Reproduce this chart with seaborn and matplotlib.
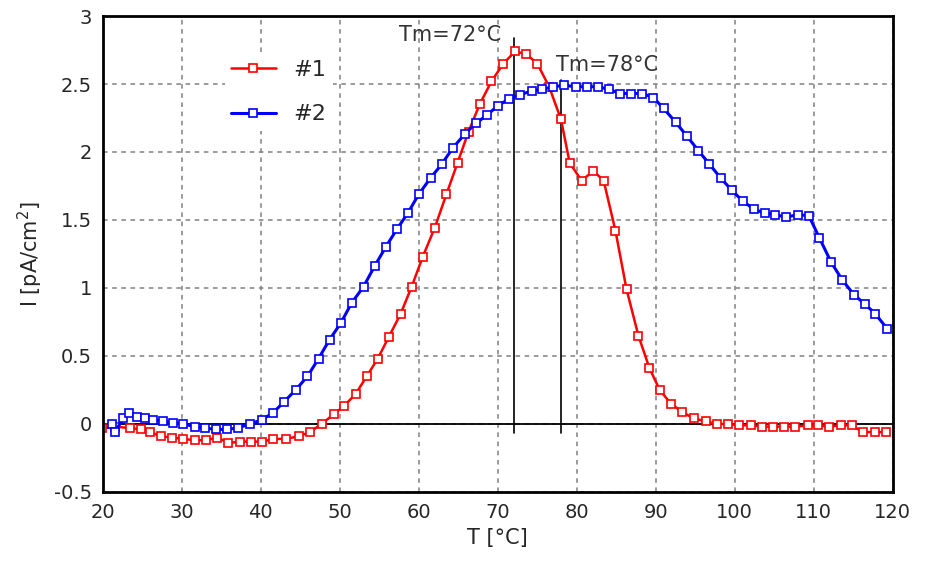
import numpy as np
import pandas as pd
import matplotlib
matplotlib.use("Agg")
import matplotlib.pyplot as plt
import seaborn as sns
from matplotlib.ticker import FuncFormatter

# === data ===
t1 = [19.9, 21.5, 23.4, 24.8, 26.0, 27.3, 28.7, 30.2, 31.6, 33.0, 34.5, 35.9, 37.3, 38.8,
      40.2, 41.6, 43.2, 44.8, 46.2, 47.7, 49.2, 50.5, 52.0, 53.4, 54.8, 56.2, 57.7, 59.1,
      60.5, 62.0, 63.5, 64.9, 66.3, 67.7, 69.2, 70.7, 72.2, 73.6, 75.0, 76.5, 78.0, 79.1,
      80.6, 82.1, 83.4, 84.9, 86.3, 87.8, 89.2, 90.5, 91.9, 93.3, 94.8, 96.3, 97.7, 99.1,
      100.5, 102.0, 103.5, 104.8, 106.2, 107.6, 109.3, 110.5, 111.9, 113.4, 114.8, 116.2,
      117.7, 119.1]
i1 = [-0.03, -0.02, -0.03, -0.04, -0.06, -0.09, -0.10, -0.11, -0.12, -0.12, -0.10, -0.14,
      -0.13, -0.13, -0.13, -0.11, -0.11, -0.09, -0.06, 0.00, 0.07, 0.13, 0.22, 0.35, 0.48,
      0.64, 0.81, 1.01, 1.23, 1.44, 1.69, 1.92, 2.15, 2.35, 2.52, 2.65, 2.74, 2.72, 2.65,
      2.48, 2.24, 1.92, 1.79, 1.86, 1.79, 1.42, 0.99, 0.65, 0.41, 0.25, 0.15, 0.09, 0.04,
      0.02, 0.00, 0.00, -0.01, -0.01, -0.02, -0.02, -0.02, -0.02, -0.01, -0.01, -0.02,
      -0.01, -0.01, -0.06, -0.06, -0.06]

t2 = [21.1, 21.5, 22.6, 23.3, 24.3, 25.3, 26.4, 27.6, 28.9, 30.2, 31.6, 32.9, 34.3, 35.7,
      37.1, 38.6, 40.1, 41.5, 42.9, 44.4, 45.9, 47.3, 48.7, 50.1, 51.5, 53.0, 54.4, 55.8,
      57.2, 58.6, 60.0, 61.5, 62.9, 64.3, 65.8, 67.2, 68.6, 70.0, 71.4, 72.8, 74.3, 75.6,
      77.0, 78.4, 79.9, 81.3, 82.7, 84.1, 85.5, 86.9, 88.3, 89.7, 91.0, 92.5, 93.9, 95.4,
      96.8, 98.2, 99.6, 101.0, 102.4, 103.8, 105.1, 106.5, 108.0, 109.4, 110.7, 112.2,
      113.6, 115.1, 116.5, 117.8, 119.3]
i2 = [0.00, -0.06, 0.04, 0.08, 0.05, 0.04, 0.03, 0.02, 0.01, 0.00, -0.02, -0.03, -0.04,
      -0.04, -0.03, 0.00, 0.03, 0.08, 0.16, 0.25, 0.35, 0.48, 0.62, 0.74, 0.89, 1.01, 1.16,
      1.30, 1.43, 1.55, 1.69, 1.81, 1.91, 2.03, 2.13, 2.21, 2.27, 2.34, 2.39, 2.42, 2.45,
      2.46, 2.48, 2.49, 2.48, 2.48, 2.48, 2.46, 2.43, 2.43, 2.43, 2.40, 2.32, 2.22, 2.12,
      2.01, 1.91, 1.81, 1.72, 1.64, 1.58, 1.55, 1.54, 1.52, 1.54, 1.53, 1.37, 1.19, 1.06,
      0.95, 0.88, 0.81, 0.70]

tm_values = [72, 78]
tm_tops = [2.84, 2.53]
tm_labels = ["Tm=72°C", "Tm=78°C"]

sns.set_style("white")
plt.rcParams["font.family"] = ["DejaVu Sans"]
plt.rcParams["axes.unicode_minus"] = False

fig = plt.figure(figsize=(9.27, 5.72), dpi=100)
ax = fig.add_axes([0.111, 0.140, 0.852, 0.832])

style = dict(marker="s", markersize=6.3, markerfacecolor="white", markeredgewidth=1.2,
             estimator=None)
sns.lineplot(x=t1, y=i1, color="#ff0000", markeredgecolor="#ff0000", label="#1",
             linewidth=1.8, ax=ax, **style)
sns.lineplot(x=t2, y=i2, color="#0000ff", markeredgecolor="#0000ff", label="#2",
             linewidth=2.2, ax=ax, **style)

# melting temperature markers
for tm, top in zip(tm_values, tm_tops):
    ax.plot([tm, tm], [-0.07, top], color="black", lw=1.2, zorder=1)
ax.text(72 - 1.5, 2.86, tm_labels[0], ha="right", va="center", fontsize=15, color="#333333")
ax.text(77.4, 2.64, tm_labels[1], ha="left", va="center", fontsize=15, color="#333333")

ax.axhline(0, color="black", lw=1.3, zorder=1)

ax.set_xlim(20, 120)
ax.set_ylim(-0.5, 3)
ax.set_xticks(np.arange(20, 121, 10))
ax.set_yticks(np.arange(-0.5, 3.01, 0.5))
ax.yaxis.set_major_formatter(FuncFormatter(lambda v, p: f"{v:g}"))
ax.grid(True, color="#808080", linestyle=(0, (3, 3)), linewidth=1.1)
ax.set_axisbelow(True)
ax.tick_params(length=0, labelsize=14, pad=8)
for s in ax.spines.values():
    s.set_visible(True)
    s.set_color("black")
    s.set_linewidth(2)

ax.set_xlabel("T [°C]", fontsize=15, labelpad=4)
ax.set_ylabel("I [pA/cm$^2$]", fontsize=15, labelpad=6)

leg = ax.legend(loc="upper left", bbox_to_anchor=(0.14, 0.945), frameon=True, fancybox=False,
                edgecolor="none", facecolor="white", framealpha=1, fontsize=16,
                handlelength=2.0, labelspacing=1.1, borderpad=0.3)

fig.savefig("out.png", dpi=100)
